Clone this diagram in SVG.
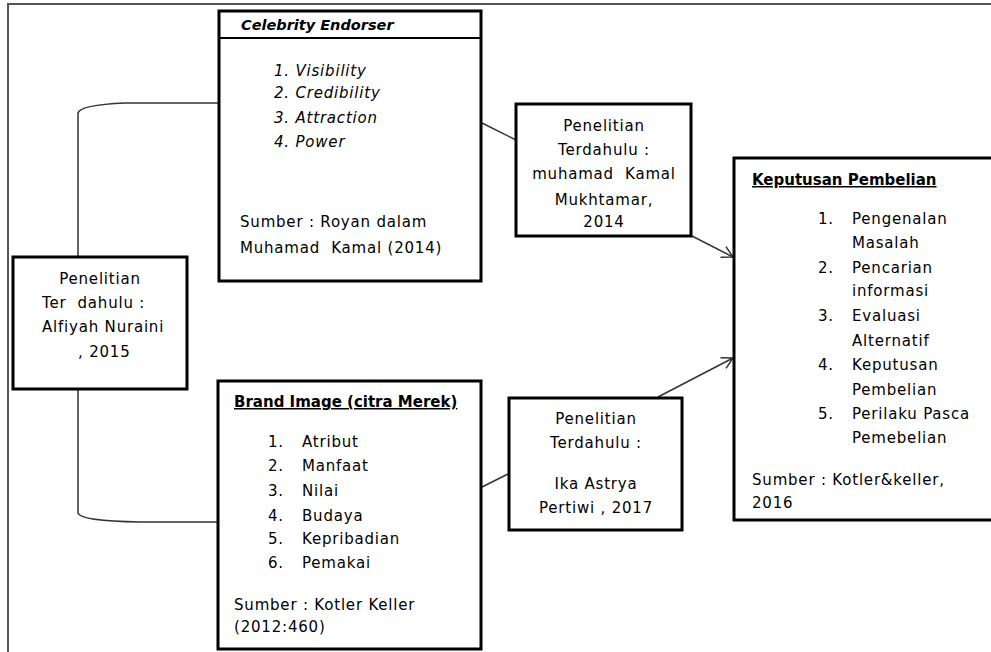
<svg xmlns="http://www.w3.org/2000/svg" width="991" height="652" viewBox="0 0 991 652">
<defs>
<style>
.box{fill:#fff;stroke:#000;stroke-width:3}
.t{font-family:"DejaVu Sans","Verdana",sans-serif;font-size:15px;fill:#000;letter-spacing:0.8px}
.c{text-anchor:middle}
.b{font-weight:bold;letter-spacing:0;text-decoration:underline}
.i{font-style:italic}
.bi{font-weight:bold;font-style:italic;letter-spacing:0;font-size:14.5px}
.ln{fill:none;stroke:#333;stroke-width:1.5}
</style>
<marker id="arr" markerWidth="14" markerHeight="14" refX="12" refY="7" orient="auto" markerUnits="userSpaceOnUse">
<path d="M1,1 L12,7 L1,13" fill="none" stroke="#333" stroke-width="1.5"/>
</marker>
</defs>
<rect width="991" height="652" fill="#fff"/>
<path d="M8,652 V4 H991" fill="none" stroke="#555" stroke-width="2"/>

<g id="connectors">
<path class="ln" d="M219,103 H125 Q80,105 78,113 V257"/>
<path class="ln" d="M78,389 V513 Q80,521 140,522 H219"/>
<path class="ln" d="M482,123 L516,140"/>
<path class="ln" d="M482,487 L508,474"/>
<path class="ln" d="M692,236 L733,257" marker-end="url(#arr)"/>
<path class="ln" d="M658,397 L733,358" marker-end="url(#arr)"/>
</g>

<g id="celebrity">
<rect class="box" x="219" y="11" width="262" height="270"/>
<line x1="219" y1="38" x2="481" y2="38" stroke="#000" stroke-width="2"/>
<text class="t bi" x="241" y="30">Celebrity Endorser</text>
<text class="t i" x="274" y="76">1. Visibility</text>
<text class="t i" x="274" y="98">2. Credibility</text>
<text class="t i" x="274" y="123">3. Attraction</text>
<text class="t i" x="274" y="147">4. Power</text>
<text class="t" x="240" y="227">Sumber : Royan dalam</text>
<text class="t" x="240" y="253" xml:space="preserve">Muhamad  Kamal (2014)</text>
</g>

<g id="alfiyah">
<rect class="box" x="13" y="257" width="174" height="132"/>
<text class="t c" x="100" y="284">Penelitian</text>
<text class="t" x="42" y="308" xml:space="preserve">Ter  dahulu :</text>
<text class="t" x="42" y="332">Alfiyah Nuraini</text>
<text class="t" x="78" y="357">, 2015</text>
</g>

<g id="brand">
<rect class="box" x="218" y="381" width="263" height="268"/>
<text class="t b" x="234" y="407">Brand Image (citra Merek)</text>
<text class="t" x="268" y="447">1.</text><text class="t" x="302" y="447">Atribut</text>
<text class="t" x="268" y="471">2.</text><text class="t" x="302" y="471">Manfaat</text>
<text class="t" x="268" y="496">3.</text><text class="t" x="302" y="496">Nilai</text>
<text class="t" x="268" y="521">4.</text><text class="t" x="302" y="521">Budaya</text>
<text class="t" x="268" y="544">5.</text><text class="t" x="302" y="544">Kepribadian</text>
<text class="t" x="268" y="568">6.</text><text class="t" x="302" y="568">Pemakai</text>
<text class="t" x="234" y="610">Sumber : Kotler Keller</text>
<text class="t" x="234" y="632">(2012:460)</text>
</g>

<g id="kamal">
<rect class="box" x="516" y="104" width="175" height="132"/>
<text class="t c" x="604" y="131">Penelitian</text>
<text class="t c" x="604" y="155">Terdahulu :</text>
<text class="t c" x="604" y="179" xml:space="preserve">muhamad  Kamal</text>
<text class="t c" x="604" y="205">Mukhtamar,</text>
<text class="t c" x="604" y="227">2014</text>
</g>

<g id="ika">
<rect class="box" x="509" y="398" width="173" height="132"/>
<text class="t c" x="596" y="424">Penelitian</text>
<text class="t c" x="596" y="448">Terdahulu :</text>
<text class="t c" x="596" y="489">Ika Astrya</text>
<text class="t c" x="596" y="513">Pertiwi , 2017</text>
</g>

<g id="keputusan">
<path d="M995,158 H734 V520 H995" fill="#fff" stroke="#000" stroke-width="3"/>
<text class="t b" x="752" y="185">Keputusan Pembelian</text>
<text class="t" x="818" y="224">1.</text><text class="t" x="852" y="224">Pengenalan</text>
<text class="t" x="852" y="248">Masalah</text>
<text class="t" x="818" y="273">2.</text><text class="t" x="852" y="273">Pencarian</text>
<text class="t" x="852" y="296">informasi</text>
<text class="t" x="818" y="321">3.</text><text class="t" x="852" y="321">Evaluasi</text>
<text class="t" x="852" y="346">Alternatif</text>
<text class="t" x="818" y="370">4.</text><text class="t" x="852" y="370">Keputusan</text>
<text class="t" x="852" y="395">Pembelian</text>
<text class="t" x="818" y="419">5.</text><text class="t" x="852" y="419">Perilaku Pasca</text>
<text class="t" x="852" y="443">Pemebelian</text>
<text class="t" x="752" y="485">Sumber : Kotler&amp;keller,</text>
<text class="t" x="752" y="508">2016</text>
</g>
</svg>
